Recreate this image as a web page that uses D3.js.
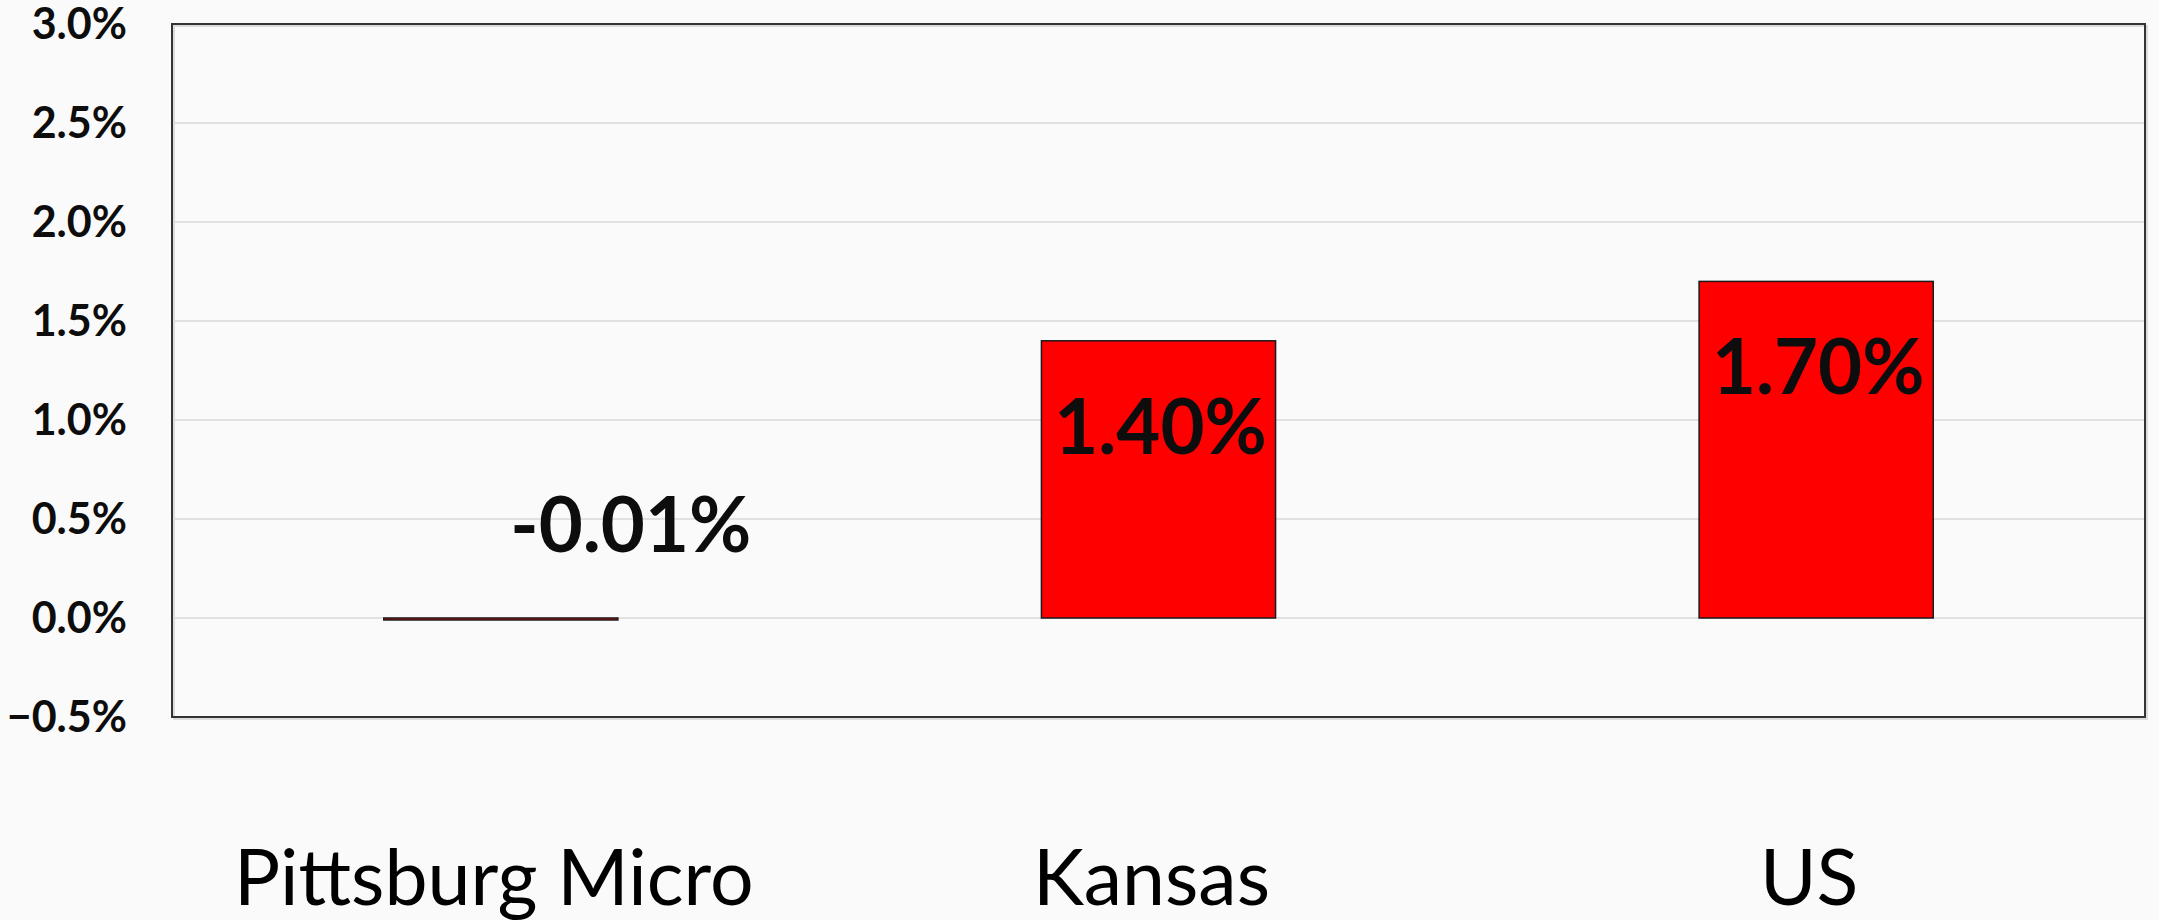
<!DOCTYPE html>
<html>
<head>
<meta charset="utf-8">
<script src="https://cdn.jsdelivr.net/npm/d3@7"></script>
<style>
    html, body { margin: 0; padding: 0; background: #fafafa; }
    svg { display: block; }
</style>
</head>
<body>
<div id="chart"></div>
<script>
const categories = ['Pittsburg Micro', 'Kansas', 'US']
const values = [-0.01, 1.40, 1.70]
const valueLabels = ['-0.01%', '1.40%', '1.70%']
const yTicks = [-0.5, 0, 0.5, 1.0, 1.5, 2.0, 2.5, 3.0]

const W = 2159,
    H = 920,
    plotLeft = 172,
    plotRight = 2145,
    plotTop = 24,
    plotBottom = 717

const svg = d3.select('#chart')
    .append('svg')
    .attr('width', W)
    .attr('height', H)
    .style('background-color', '#fafafa')

const x = d3.scaleBand()
    .domain(categories)
    .range([plotLeft, plotRight])
    .paddingInner(0.644)
    .paddingOuter(0.322)

const y = d3.scaleLinear()
    .domain([-0.5, 3.0])
    .range([plotBottom, plotTop])

// gridlines
svg.append('g')
    .selectAll('line')
    .data(yTicks)
    .enter()
    .append('line')
    .attr('x1', plotLeft)
    .attr('x2', plotRight)
    .attr('y1', d => y(d))
    .attr('y2', d => y(d))
    .attr('stroke', '#d9d9d9')
    .attr('stroke-width', 1.5)

// y axis labels
const yAxis = d3.axisLeft(y)
    .tickValues(yTicks)
    .tickFormat(d => d3.format('.1f')(d) + '%')
    .tickSize(0)
    .tickPadding(45)
const gy = svg.append('g')
    .attr('transform', `translate(${plotLeft}, 1)`)
    .call(yAxis)
gy.select('.domain').remove()
gy.selectAll('text')
    .attr('fill', '#0d0d0d')
    .style('font-family', 'Lato, "Open Sans", sans-serif')
    .style('font-weight', 'bold')
    .style('font-size', '43px')

// bars
svg.append('g')
    .selectAll('rect')
    .data(values)
    .enter()
    .append('rect')
    .attr('x', (d, i) => x(categories[i]))
    .attr('y', d => y(Math.max(0, d)))
    .attr('width', x.bandwidth())
    .attr('height', d => Math.abs(y(d) - y(0)))
    .attr('fill', '#ff0000')
    .attr('stroke', '#1a1a1a')
    .attr('stroke-width', 1.5)

// plot frame
svg.append('rect')
    .attr('x', plotLeft + 2)
    .attr('y', plotTop + 2)
    .attr('width', plotRight - plotLeft)
    .attr('height', plotBottom - plotTop)
    .attr('fill', 'none')
    .attr('stroke', '#dcdcdc')
    .attr('stroke-width', 2)
svg.append('rect')
    .attr('x', plotLeft)
    .attr('y', plotTop)
    .attr('width', plotRight - plotLeft)
    .attr('height', plotBottom - plotTop)
    .attr('fill', 'none')
    .attr('stroke', '#333333')
    .attr('stroke-width', 2)

// value labels
svg.append('g')
    .selectAll('text')
    .data(values)
    .enter()
    .append('text')
    .attr('x', (d, i) => x(categories[i]) + x.bandwidth() / 2 + (d < 0 ? 130 : 2))
    .attr('y', d => d < 0 ? y(0) - 66 : y(d) + 113)
    .attr('text-anchor', 'middle')
    .attr('fill', '#0d0d0d')
    .style('font-family', 'Lato, "Open Sans", sans-serif')
    .style('font-weight', 'bold')
    .style('font-size', '76px')
    .text((d, i) => valueLabels[i])

// category labels
svg.append('g')
    .selectAll('text')
    .data(categories)
    .enter()
    .append('text')
    .attr('x', d => x(d) + x.bandwidth() / 2 - 7)
    .attr('y', 905)
    .attr('text-anchor', 'middle')
    .attr('fill', '#000')
    .style('font-family', 'Lato, "Open Sans", sans-serif')
    .style('font-size', '77px')
    .text(d => d)

</script>
</body>
</html>
